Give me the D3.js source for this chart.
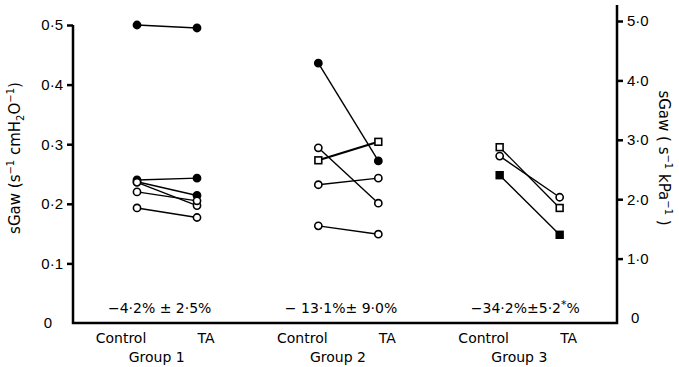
<!DOCTYPE html>
<html>
<head>
<meta charset="utf-8">
<script src="https://cdn.jsdelivr.net/npm/d3@7"></script>
<style>
  body { margin: 0; background: #fff; }
  svg { font-family: "DejaVu Sans", sans-serif; }
</style>
</head>
<body>
<svg id="chart" width="679" height="367"></svg>
<script>
const groups = ["Group 1", "Group 2", "Group 3"]
const conditions = ["Control", "TA"]
const leftTicks = [0, 0.1, 0.2, 0.3, 0.4, 0.5]
const rightTicks = [0, 1, 2, 3, 4, 5]

// one entry per subject
const subjectGroup = ["Group 1","Group 1","Group 1","Group 1","Group 1","Group 1",
                      "Group 2","Group 2","Group 2","Group 2","Group 2",
                      "Group 3","Group 3","Group 3"]
const controlValues = [0.500, 0.240, 0.237, 0.236, 0.220, 0.193,
                       0.436, 0.273, 0.294, 0.232, 0.163,
                       0.295, 0.280, 0.248]
const taValues      = [0.495, 0.243, 0.214, 0.197, 0.205, 0.177,
                       0.272, 0.304, 0.201, 0.243, 0.149,
                       0.193, 0.211, 0.148]
const markers = ["filledCircle","filledCircle","filledCircle","openCircle","openCircle","openCircle",
                 "filledCircle","openSquare","openCircle","openCircle","openCircle",
                 "openSquare","openCircle","filledSquare"]

const changeText = ["−4·2% ± 2·5%", "− 13·1%± 9·0%", "−34·2%±5·2"]

const svg = d3.select("#chart")
const left = 73, right = 617, bottom = 323

const xGroup = d3.scaleBand().domain(groups).range([left, right])
const xCond = d3.scalePoint().domain(conditions).range([64, 124])
const xLabel = d3.scalePoint().domain(conditions).range([48, 133])
const y = d3.scaleLinear().domain([0, 0.5]).range([323, 25])
const yR = d3.scaleLinear().domain([0, 5]).range([318, 21])

const fmt = d => d === 0 ? "0" : d3.format(".1f")(d).replace(".", "·")

// left axis
const gL = svg.append("g").attr("transform", `translate(${left},0)`)
  .call(d3.axisLeft(y).tickValues(leftTicks).tickFormat(fmt).tickSize(6).tickPadding(4))
gL.select(".domain").remove()
gL.selectAll(".tick line").attr("stroke-width", 2.5)
gL.selectAll(".tick text").attr("font-size", 15).attr("fill", "#000")
gL.selectAll(".tick").filter(d => d === 0).select("line").remove()
gL.selectAll(".tick").filter(d => d === 0).select("text").attr("x", -21)

// right axis
const gR = svg.append("g").attr("transform", `translate(${right},0)`)
  .call(d3.axisRight(yR).tickValues(rightTicks).tickFormat(fmt).tickSize(6).tickPadding(4))
gR.select(".domain").remove()
gR.selectAll(".tick line").attr("stroke-width", 2.5)
gR.selectAll(".tick text").attr("font-size", 15).attr("fill", "#000")
gR.selectAll(".tick").filter(d => d === 0).select("line").remove()
gR.selectAll(".tick").filter(d => d === 0).select("text").attr("x", 14)

// frame lines
svg.append("path")
  .attr("d", `M${left},${y(0.5)}V${bottom}H${right}V5`)
  .attr("fill", "none").attr("stroke", "#000").attr("stroke-width", 2.5)

// axis titles
const tL = svg.append("text")
  .attr("transform", `translate(20,158) rotate(-90)`)
  .attr("text-anchor", "middle").attr("font-size", 15)
tL.append("tspan").text("sGaw (s")
tL.append("tspan").text("−1").attr("font-size", 10).attr("dy", -6)
tL.append("tspan").text(" cmH").attr("dy", 6)
tL.append("tspan").text("2").attr("font-size", 10).attr("dy", 4)
tL.append("tspan").text("O").attr("dy", -4)
tL.append("tspan").text("−1").attr("font-size", 10).attr("dy", -6)
tL.append("tspan").text(")").attr("dy", 6)

const tR = svg.append("text")
  .attr("transform", `translate(659,158) rotate(90)`)
  .attr("text-anchor", "middle").attr("font-size", 15)
tR.append("tspan").text("sGaw  ( s")
tR.append("tspan").text("−1").attr("font-size", 10).attr("dy", -6)
tR.append("tspan").text(" kPa").attr("dy", 6)
tR.append("tspan").text("−1").attr("font-size", 10).attr("dy", -6)
tR.append("tspan").text(" )").attr("dy", 6)

// condition and group labels
groups.forEach(g => {
  conditions.forEach(c => {
    svg.append("text")
      .attr("x", xGroup(g) + xLabel(c)).attr("y", 343)
      .attr("text-anchor", "middle").attr("font-size", 14)
      .text(c)
  })
  svg.append("text")
    .attr("x", xGroup(g) + xGroup.bandwidth() / 2 - 7).attr("y", 362)
    .attr("text-anchor", "middle").attr("font-size", 14)
    .text(g)
})

// percentage change annotations
const ann = svg.append("g").selectAll("text").data(groups).join("text")
  .attr("x", g => xGroup(g) + xGroup.bandwidth() / 2 - 4 + (g === "Group 3" ? 3 : 0))
  .attr("y", 313)
  .attr("text-anchor", "middle").attr("font-size", 14)
ann.each(function(g, i) {
  const t = d3.select(this)
  t.append("tspan").text(changeText[i])
  if (i === 2) {
    t.append("tspan").text("*").attr("font-size", 11).attr("dy", -5)
    t.append("tspan").text("%").attr("dy", 5)
  }
})

// subject lines
const subjects = controlValues.map((v, i) => ({
  group: subjectGroup[i], control: v, ta: taValues[i], marker: markers[i]
}))
const xPos = (d, c) => xGroup(d.group) + xCond(c)

svg.append("g").selectAll("line").data(subjects).join("line")
  .attr("x1", d => xPos(d, "Control")).attr("y1", d => y(d.control))
  .attr("x2", d => xPos(d, "TA")).attr("y2", d => y(d.ta))
  .attr("stroke", "#000")
  .attr("stroke-width", d => d.marker === "openSquare" && d.group === "Group 2" ? 2.2 : 1.4)

// markers
const points = subjects.flatMap(d => [
  { x: xPos(d, "Control"), v: d.control, marker: d.marker },
  { x: xPos(d, "TA"), v: d.ta, marker: d.marker }
])
const g = svg.append("g")
g.selectAll("circle").data(points.filter(p => p.marker.endsWith("Circle"))).join("circle")
  .attr("cx", p => p.x).attr("cy", p => y(p.v)).attr("r", 3.6)
  .attr("fill", p => p.marker.startsWith("filled") ? "#000" : "#fff")
  .attr("stroke", "#000").attr("stroke-width", 1.6)
g.selectAll("rect").data(points.filter(p => p.marker.endsWith("Square"))).join("rect")
  .attr("x", p => p.x - 3.4).attr("y", p => y(p.v) - 3.4)
  .attr("width", 6.8).attr("height", 6.8)
  .attr("fill", p => p.marker.startsWith("filled") ? "#000" : "#fff")
  .attr("stroke", "#000").attr("stroke-width", 1.6)
</script>
</body>
</html>
